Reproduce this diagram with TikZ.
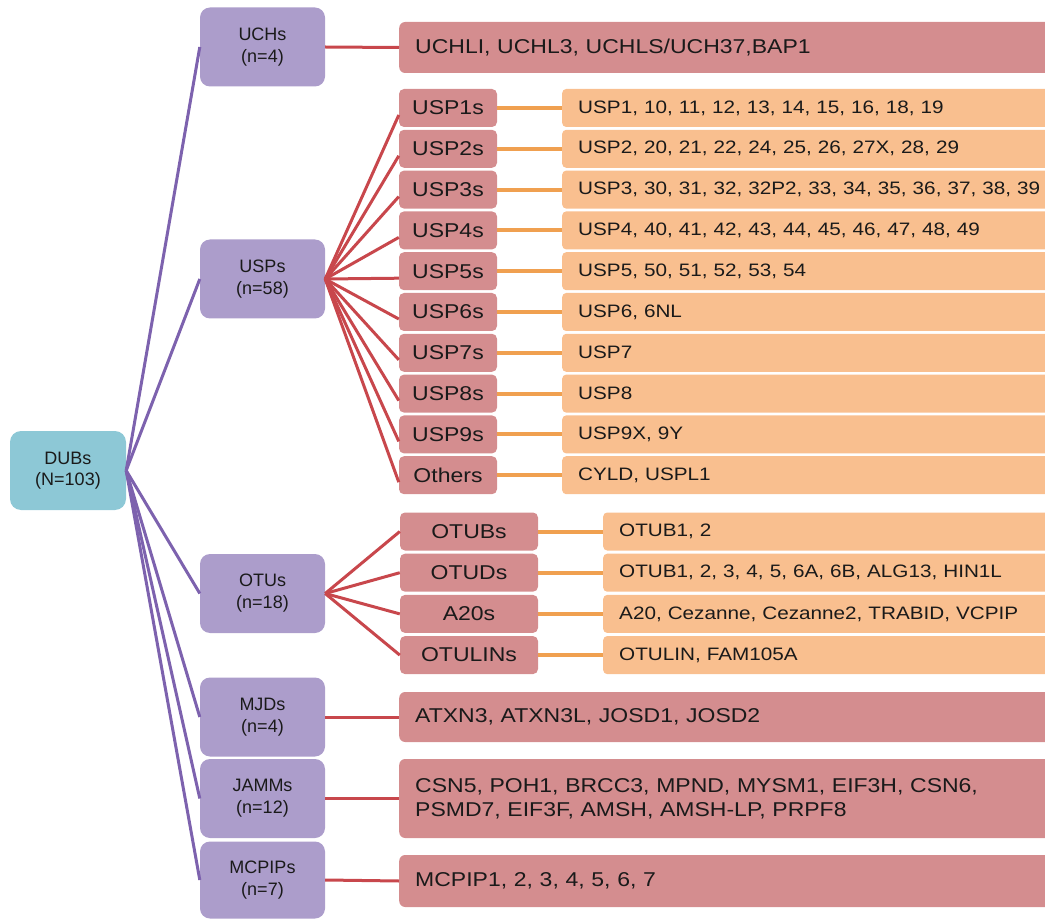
\documentclass[tikz,border=0pt]{standalone}
\usepackage{fontspec}
\setmainfont{Liberation Sans}
\newfontfamily\wfont[FakeStretch=1.15]{Liberation Sans}
\definecolor{blueC}{HTML}{8DC8D6}
\definecolor{purpleC}{HTML}{AC9DCB}
\definecolor{purpleL}{HTML}{7D62AE}
\definecolor{redC}{HTML}{D48D8F}
\definecolor{redL}{HTML}{C8474C}
\definecolor{orangeC}{HTML}{F9BF8F}
\definecolor{orangeL}{HTML}{F0A050}
\definecolor{txt}{HTML}{1A1A1A}
\begin{document}
\begin{tikzpicture}[x=1pt,y=-1pt,
  dbox/.style={rectangle, rounded corners=11pt, fill=blueC, minimum width=116pt, minimum height=79pt, align=center, text=txt, inner sep=0pt, font=\fontsize{18}{21}\selectfont},
  pbox/.style={rectangle, rounded corners=10pt, fill=purpleC, minimum width=125pt, minimum height=79pt, align=center, text=txt, inner sep=0pt, font=\fontsize{18}{22}\selectfont},
  subbox/.style={rectangle, rounded corners=5pt, fill=redC, minimum height=38pt, text=txt, inner sep=0pt, font=\wfont\fontsize{20}{24}\selectfont},
  obox/.style={rectangle, anchor=west, rounded corners=4pt, fill=orangeC, minimum height=38pt, text width=470pt, align=left, inner xsep=16pt, inner ysep=0pt, text=txt, font=\wfont\fontsize{18}{22}\selectfont},
  lbox/.style={rectangle, anchor=west, rounded corners=6pt, fill=redC, text width=630pt, align=left, inner xsep=16pt, inner ysep=0pt, text=txt, font=\wfont\fontsize{20}{24}\selectfont},
  pline/.style={draw=purpleL, line width=3pt},
  rline/.style={draw=redL, line width=3pt},
  oline/.style={draw=orangeL, line width=4pt}]
\useasboundingbox (0,0) rectangle (1045,920);
\clip (0,0) rectangle (1045,920);

% root
\node[dbox] (dubs) at (68,470.5) {DUBs\\(N=103)};

% families
\node[pbox] (uchs) at (262.5,47) {UCHs\\(n=4)};
\node[pbox] (usps) at (262.5,279) {USPs\\(n=58)};
\node[pbox] (otus) at (262.5,593.5) {OTUs\\(n=18)};
\node[pbox] (mjds) at (262.5,717) {MJDs\\(n=4)};
\node[pbox] (jamms) at (262.5,798.5) {JAMMs\\(n=12)};
\node[pbox, minimum height=77pt] (mcpips) at (262.5,880) {MCPIPs\\(n=7)};

% lists
\node[lbox, minimum height=51pt] (uchl) at (399,47.5) {UCHLI, UCHL3, UCHLS/UCH37,BAP1};
\node[lbox, minimum height=50pt] (mjdl) at (399,717) {ATXN3, ATXN3L, JOSD1, JOSD2};
\node[lbox, minimum height=79pt] (jamml) at (399,798.5) {CSN5, POH1, BRCC3, MPND, MYSM1, EIF3H, CSN6,\\PSMD7, EIF3F, AMSH, AMSH-LP, PRPF8};
\node[lbox, minimum height=52pt] (mcpipl) at (399,881) {MCPIP1, 2, 3, 4, 5, 6, 7};

% USP subfamilies
\foreach \i/\lab/\lst in {
  0/USP1s/{USP1, 10, 11, 12, 13, 14, 15, 16, 18, 19},
  1/USP2s/{USP2, 20, 21, 22, 24, 25, 26, 27X, 28, 29},
  2/USP3s/{USP3, 30, 31, 32, 32P2, 33, 34, 35, 36, 37, 38, 39},
  3/USP4s/{USP4, 40, 41, 42, 43, 44, 45, 46, 47, 48, 49},
  4/USP5s/{USP5, 50, 51, 52, 53, 54},
  5/USP6s/{USP6, 6NL},
  6/USP7s/{USP7},
  7/USP8s/{USP8},
  8/USP9s/{USP9X, 9Y},
  9/Others/{CYLD, USPL1}} {
  \node[subbox, minimum width=98pt] (s\i) at (448,108+40.8*\i) {\lab};
  \node[obox] (so\i) at (562,108+40.8*\i) {\lst};
  \draw[oline] (s\i.east) -- (so\i.west);
  \draw[rline] (usps.east) -- ([yshift=-7pt]s\i.west);
}

% OTU subfamilies
\foreach \i/\lab/\lst in {
  0/OTUBs/{OTUB1, 2},
  1/OTUDs/{OTUB1, 2, 3, 4, 5, 6A, 6B, ALG13, HIN1L},
  2/A20s/{A20, Cezanne, Cezanne2, TRABID, VCPIP},
  3/OTULINs/{OTULIN, FAM105A}} {
  \node[subbox, minimum width=138pt] (t\i) at (469,531.5+41.2*\i) {\lab};
  \node[obox] (to\i) at (603,531.5+41.2*\i) {\lst};
  \draw[oline] (t\i.east) -- (to\i.west);
  \draw[rline] (otus.east) -- (t\i.west);
}

% root connectors
\foreach \n in {uchs,usps,otus,mjds,jamms,mcpips}
  \draw[pline] (dubs.east) -- (\n.west);

% family to list connectors
\draw[rline] (uchs.east) -- (uchl.west);
\draw[rline] (mjds.east) -- (mjdl.west);
\draw[rline] (jamms.east) -- (jamml.west);
\draw[rline] (mcpips.east) -- (mcpipl.west);
\end{tikzpicture}
\end{document}
